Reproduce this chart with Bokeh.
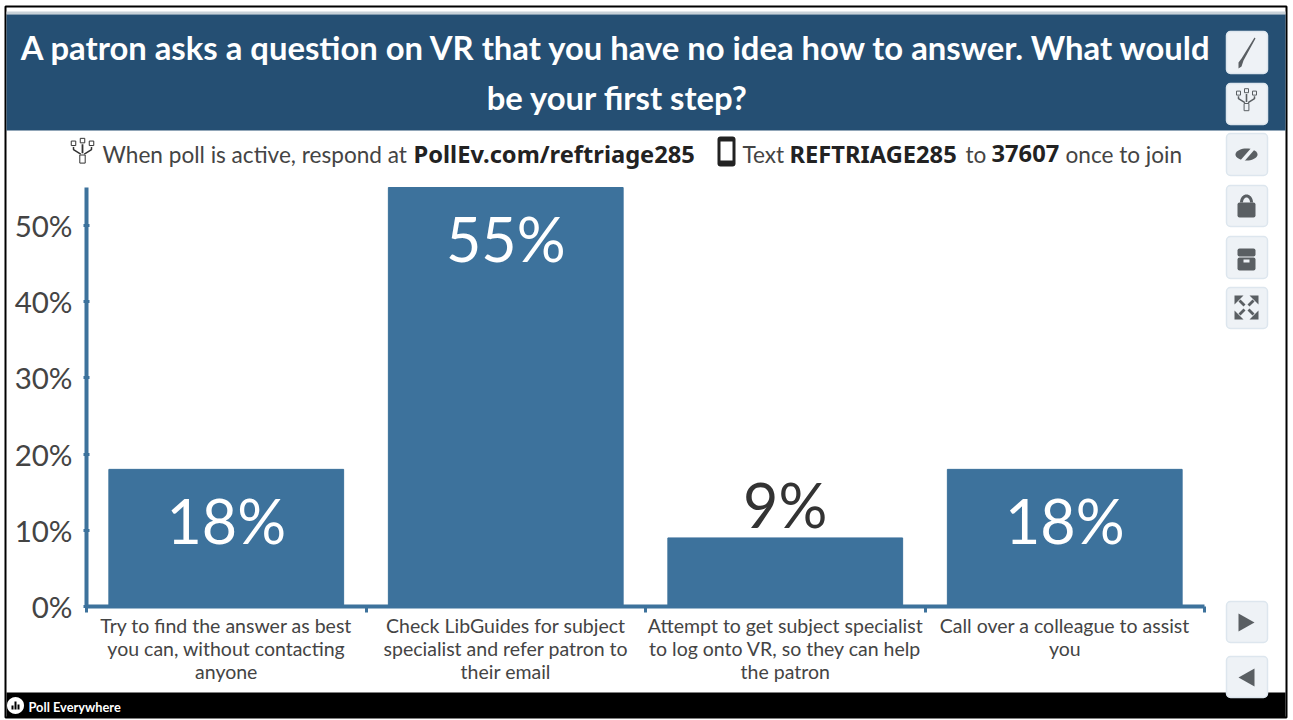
import math

from bokeh.core.properties import value
from bokeh.embed import file_html
from bokeh.models import (BoxAnnotation, ColumnDataSource, FixedTicker, Label,
                          LinearAxis, PolyAnnotation, PrintfTickFormatter, Range1d)
from bokeh.plotting import figure
from bokeh.resources import INLINE

# Poll results
categories = [
    "Try to find the answer as best\nyou can, without contacting\nanyone",
    "Check LibGuides for subject\nspecialist and refer patron to\ntheir email",
    "Attempt to get subject specialist\nto log onto VR, so they can help\nthe patron",
    "Call over a colleague to assist\nyou",
]
percent_values = [18, 55, 9, 18]
y_tick_values = [0, 10, 20, 30, 40, 50]
title_lines = ["A patron asks a question on VR that you have no idea how to answer. What would",
               "be your first step?"]

BLUE = "#3d729c"
BANNER = "#254f73"
INK = "#444444"
ICON = "#5a5f63"
BUTTON = "#eef2f6"
FONT = "Lato"
BOLD_FONT = "Noto Sans"

WIDTH, HEIGHT = 1293, 720
PLOT_LEFT, PLOT_RIGHT, PLOT_TOP, PLOT_BOTTOM = 86, 1204, 187, 606
Y_MAX = 55

# The drawing area fills the page so the poll's furniture can share it; the ranges
# are stretched so that the chart itself lands inside the plot rectangle.
x_unit = (PLOT_RIGHT - PLOT_LEFT) / len(categories)
y_unit = (PLOT_BOTTOM - PLOT_TOP) / Y_MAX
x_range = Range1d(-PLOT_LEFT / x_unit, len(categories) + (WIDTH - PLOT_RIGHT) / x_unit)
y_range = Range1d(-(HEIGHT - PLOT_BOTTOM) / y_unit, Y_MAX + PLOT_TOP / y_unit)

centres = [i + 0.5 for i in range(len(categories))]

p = figure(width=WIDTH, height=HEIGHT, x_range=x_range, y_range=y_range,
           output_backend="svg", toolbar_location=None, min_border=0, outline_line_color=None,
           x_axis_location=None, y_axis_location=None, background_fill_color="white")
p.grid.visible = False

# Bars and their value labels
inside = [v > 10 for v in percent_values]
source = ColumnDataSource(dict(
    pos=centres,
    val=percent_values,
    txt=[f"{v}%" for v in percent_values],
    off=[51 if i else -33 for i in inside],
    col=["white" if i else "#333333" for i in inside],
))
p.vbar(x="pos", top="val", width=0.84, source=source, color=BLUE)
p.text(x="pos", y="val", text="txt", source=source, y_offset="off", text_color="col",
       text_align="center", text_baseline="middle", text_font=value(FONT), text_font_size="61px")

# Value axis
y_axis = LinearAxis(fixed_location=0, bounds=(0, Y_MAX), ticker=FixedTicker(ticks=y_tick_values),
                    formatter=PrintfTickFormatter(format="%d%%"),
                    axis_line_color=BLUE, axis_line_width=4, major_tick_line_color=BLUE,
                    major_tick_line_width=3, major_tick_in=3, major_tick_out=3, minor_tick_line_color=None,
                    major_label_text_font=FONT, major_label_text_font_size="29.5px",
                    major_label_text_color=INK, major_label_standoff=11)
p.add_layout(y_axis, "left")

# Category boundaries carry the ticks of the horizontal axis
edges = list(range(len(categories) + 1))
edge_axis = LinearAxis(fixed_location=0, bounds=(0, len(categories)), ticker=FixedTicker(ticks=edges),
                       major_label_overrides={e: "" for e in edges},
                       axis_line_color=BLUE, axis_line_width=4, major_tick_line_color=BLUE,
                       major_tick_line_width=3, major_tick_in=0, major_tick_out=6, minor_tick_line_color=None)
p.add_layout(edge_axis, "below")

# Category names sit between the boundaries
p.text(x=centres, y=[0] * len(categories), text=categories, y_offset=7, text_align="center",
       text_baseline="top", text_color=INK, text_font=value(FONT), text_font_size="19.5px",
       text_line_height=1.0)


# Page furniture, placed in page pixels measured from the top left
def Y(py):
    return HEIGHT - py


def box(x0, y0, x1, y1, fill, line=None, radius=0, width=1):
    p.add_layout(BoxAnnotation(left=x0, right=x1, top=Y(y0), bottom=Y(y1), left_units="screen",
                               right_units="screen", top_units="screen", bottom_units="screen",
                               fill_color=fill, fill_alpha=1 if fill else 0, line_color=line, line_alpha=1,
                               line_width=width, border_radius=radius, editable=False))


def poly(points, fill=ICON, line=None, width=1):
    p.add_layout(PolyAnnotation(xs=[a for a, _ in points], ys=[Y(b) for _, b in points], xs_units="screen",
                                ys_units="screen", fill_color=fill, fill_alpha=1 if fill else 0,
                                line_color=line, line_alpha=1, line_width=width))


def label(x, y, text, size, color=INK, style="normal", align="left", font=FONT):
    p.add_layout(Label(x=x, y=Y(y), x_units="screen", y_units="screen", text=text, text_font=font,
                       text_font_size=f"{size}px", text_color=color, text_font_style=style,
                       text_align=align, text_baseline="middle"))


def oval(cx, cy, rx, ry, start=0, stop=360, n=36):
    return [(cx + rx * math.cos(math.radians(start + (stop - start) * i / n)),
             cy + ry * math.sin(math.radians(start + (stop - start) * i / n))) for i in range(n + 1)]


def network(cx, cy, k, color):
    for dx, dy in [(-10, -8), (0, -11), (10, -8)]:
        box(cx + (dx - 2.5) * k, cy + (dy - 2.5) * k, cx + (dx + 2.5) * k, cy + (dy + 2.5) * k, None, color)
    poly([(cx - 10 * k, cy - 4 * k), (cx - 10 * k, cy - 1 * k), (cx - 2 * k, cy + 4 * k), (cx - 10 * k, cy - 1 * k)],
         None, color, 1.5)
    poly([(cx + 10 * k, cy - 4 * k), (cx + 10 * k, cy - 1 * k), (cx + 2 * k, cy + 4 * k), (cx + 10 * k, cy - 1 * k)],
         None, color, 1.5)
    poly([(cx - 1 * k, cy - 7 * k), (cx + 1 * k, cy - 7 * k), (cx + 1 * k, cy + 3 * k), (cx - 1 * k, cy + 3 * k)], color)
    box(cx - 3 * k, cy + 5 * k, cx + 3 * k, cy + 14 * k, None, color)


# Outer frame, question banner and footer strip
box(5, 6, 1286, 717, None, "#000000", width=2)
box(6, 11, 1285, 14, "#c9d2d9")
box(6, 14, 1285, 130, BANNER)
box(6, 692, 1285, 717, "#000000")
label(617, 47, title_lines[0], 32.8, "white", "bold", "center")
label(617, 97, title_lines[1], 32.8, "white", "bold", "center")

# Response instructions
network(82, 150, 0.9, "#333333")
label(102, 154, "When poll is active, respond at", 22.6)
label(413, 153, "PollEv.com/reftriage285", 23.7, "#222222", "bold", font=BOLD_FONT)
box(717, 136, 735, 166, "#222222", radius=3)
box(720, 141, 732, 160, "white")
label(742, 154, "Text", 22.6)
label(789, 153, "REFTRIAGE285", 23.7, "#222222", "bold", font=BOLD_FONT)
label(965, 154, "to", 22.6)
label(991, 153, "37607", 23.7, "#222222", "bold", font=BOLD_FONT)
label(1065, 154, "once to join", 22.6)

# Footer brand
poly(oval(15, 705, 8.5, 8.5), "white")
for bx, by in [(11, 705), (14, 701), (17, 704)]:
    box(bx, by, bx + 2, 709, "#000000")
label(28, 706, "Poll Everywhere", 12.8, "white", "bold")

# Side buttons
for top, bottom in [(31, 73), (83, 124), (133, 175), (185, 226), (236, 278), (287, 328), (601, 642), (656, 697)]:
    box(1226, top, 1267, bottom, BUTTON, "#dde6ee", radius=4, width=1.5)

poly([(1254, 37), (1255, 38), (1243, 60), (1241, 66), (1238, 68), (1238, 62), (1241, 58)])
network(1246, 99, 0.8, ICON)
poly(oval(1246, 154, 11, 6))
poly([(1238, 162), (1252, 146), (1255, 148), (1241, 164)], BUTTON)
poly(oval(1246, 202, 6.5, 8, 180, 360) + [(1249, 202)] + oval(1246, 202, 3.5, 5, 360, 180) + [(1239.5, 202)])
box(1237, 202, 1255, 217, ICON, radius=2)
box(1237, 248, 1255, 256, ICON, radius=2)
box(1237, 257, 1255, 270, ICON, radius=2)
box(1243, 259, 1249, 262, BUTTON)
for sx, sy in [(-1, -1), (1, -1), (-1, 1), (1, 1)]:
    cx, cy = 1246 + sx * 12, 307 + sy * 12
    poly([(cx, cy), (cx - sx * 9, cy), (cx, cy - sy * 9)])
    poly([(cx - sx * 6, cy - sy * 4), (cx - sx * 4, cy - sy * 6), (cx - sx * 9, cy - sy * 11), (cx - sx * 11, cy - sy * 9)])
poly([(1238, 613), (1238, 631), (1254, 622)])
poly([(1254, 668), (1254, 686), (1238, 677)])

open("out.html", "w").write(file_html(p, INLINE))
